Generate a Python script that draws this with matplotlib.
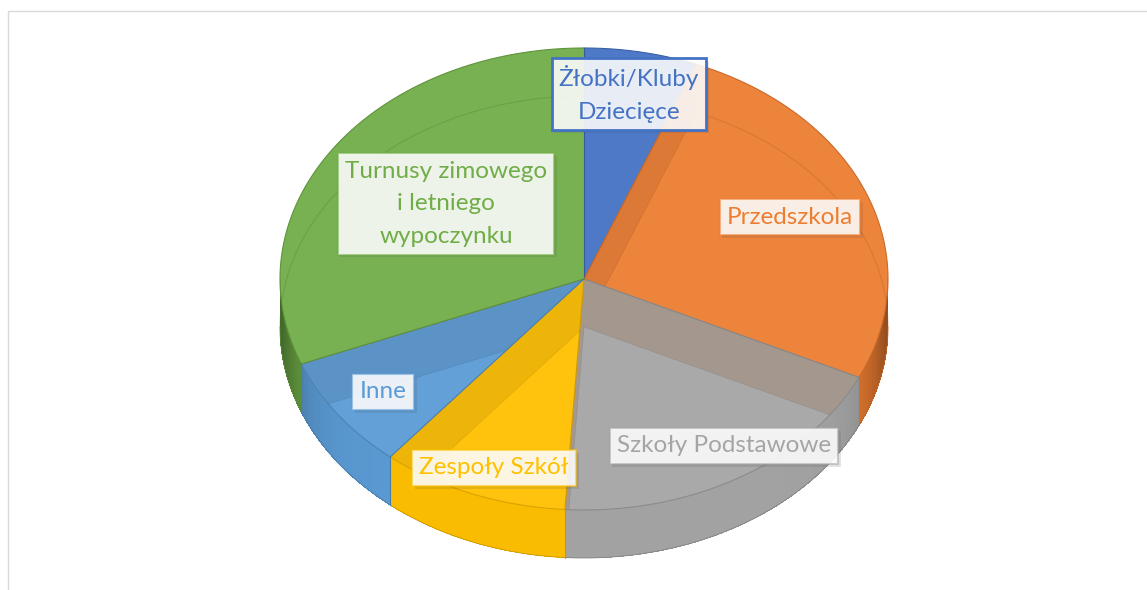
import numpy as np
import matplotlib.pyplot as plt
import matplotlib.patheffects as pe
from matplotlib.patches import Polygon, Rectangle
from matplotlib.colors import to_rgb

# slices, clockwise from 12 o'clock
categories = ['Żłobki/Kluby\nDziecięce', 'Przedszkola', 'Szkoły Podstawowe',
              'Zespoły Szkół', 'Inne', 'Turnusy zimowego\ni letniego\nwypoczynku']
values = [6, 26, 19, 10, 8, 31]
colors = ['#4472C4', '#ED7D31', '#A5A5A5', '#FFC000', '#5B9BD5', '#70AD47']
label_xy = [(629, 94), (790, 217), (724, 446), (494, 468), (383, 392), (446, 204)]

W, H = 1147, 590
CX, CY, RX, RY, DEPTH = 584, 279, 304, 231, 48

plt.rcParams['font.family'] = ['Lato', 'DejaVu Sans']


def shade(c, f):
    r, g, b = to_rgb(c)
    return (r * f, g * f, b * f)


def pt(t, dy=0.0):
    t = np.radians(t)
    return CX + RX * np.cos(t), CY - RY * np.sin(t) + dy


fig = plt.figure(figsize=(W / 100, H / 100), dpi=100)
ax = fig.add_axes([0, 0, 1, 1])
ax.set_xlim(0, W)
ax.set_ylim(H, 0)
ax.axis('off')

ax.add_patch(Rectangle((7.5, 10.5), W + 20, H + 20, fill=False, ec='#D9D9D9', lw=1))

total = float(sum(values))
bounds = 90 - 360 * np.concatenate([[0], np.cumsum(values)]) / total
n = len(values)

# outer side walls (front half only), shaded darker toward the sides
for i, c in enumerate(colors):
    lo, hi = max(bounds[i + 1], -180), min(bounds[i], 0)
    if lo >= hi:
        continue
    ts = np.linspace(hi, lo, int((hi - lo) * 2) + 2)
    for a, b in zip(ts[:-1], ts[1:]):
        m = np.radians((a + b) / 2)
        f = 0.98 - 0.4 * abs(np.cos(m)) ** 14
        xa, ya = pt(a)
        xb, yb = pt(b)
        ax.add_patch(Polygon([(xa, ya), (xb, yb), (xb, yb + DEPTH), (xa, ya + DEPTH)],
                             closed=True, fc=shade(c, f), ec='none', antialiased=False))
    xs, ys = pt(ts, DEPTH)
    ax.plot(xs, ys, color=shade(c, 0.8), lw=0.6)

# top faces
tops = []
for i, c in enumerate(colors):
    ts = np.linspace(bounds[i], bounds[i + 1], 200)
    xs, ys = pt(ts)
    poly = [(CX, CY)] + list(zip(xs, ys))
    p = Polygon(poly, closed=True, fc=c, ec='none', alpha=0.95)
    ax.add_patch(p)
    tops.append(p)
    ax.plot(xs, ys, color=shade(c, 0.85), lw=0.8)

# radial walls seen through the transparent tops
for k in range(1, n):
    a = bounds[k]
    right = np.cos(np.radians(a)) > 0
    cover = k if right else k - 1
    owner = k - 1 if right else k
    xo, yo = pt(a)
    quad = [(CX, CY), (xo, yo), (xo, yo + DEPTH), (CX, CY + DEPTH)]
    tint = colors[1] if cover == 2 else colors[cover]
    for fc, al in (('black', 0.08), (tint, 0.12)):
        q = Polygon(quad, closed=True, fc=fc, ec='none', alpha=al)
        ax.add_patch(q)
        q.set_clip_path(tops[cover])
    ax.plot([CX, xo], [CY + DEPTH, yo + DEPTH], color=shade(colors[cover], 0.8),
            lw=0.6, alpha=0.4, clip_path=tops[cover])

# boundary lines
for k in range(n):
    a = bounds[k]
    xo, yo = pt(a)
    c = colors[k]
    ax.plot([CX, xo], [CY, yo], color=shade(c, 0.8), lw=0.8)
    if np.sin(np.radians(a)) < 0:
        ax.plot([xo, xo], [yo, yo + DEPTH], color=shade(c, 0.8), lw=0.8)

# back edge of the bottom face, faint through the top
for i, c in enumerate(colors):
    lo, hi = bounds[i + 1], bounds[i]
    if lo < -180:
        lo, hi = lo + 360, hi + 360
    lo, hi = max(lo, 0), min(hi, 180)
    if lo >= hi:
        continue
    ts = np.linspace(lo, hi, 120)
    xs, ys = pt(ts, DEPTH)
    ax.plot(xs, ys, color=shade(c, 0.75), lw=0.8, alpha=0.35)

# data labels
for lab, (x, y), c in zip(categories, label_xy, colors):
    r, g, b = to_rgb(c)
    strong = lab.startswith('Żłobki')
    txt = ax.text(x, y, lab, ha='center', va='center', fontsize=17.5, color=c,
                  linespacing=1.7,
                  bbox=dict(boxstyle='square,pad=0.3', fc=(1, 1, 1, 0.88),
                            ec=(r, g, b, 1.0 if strong else 0.55),
                            lw=2 if strong else 1.5))
    txt.get_bbox_patch().set_path_effects(
        [pe.SimplePatchShadow(offset=(2, -2), alpha=0.15), pe.Normal()])

fig.savefig('out.png', dpi=100)
